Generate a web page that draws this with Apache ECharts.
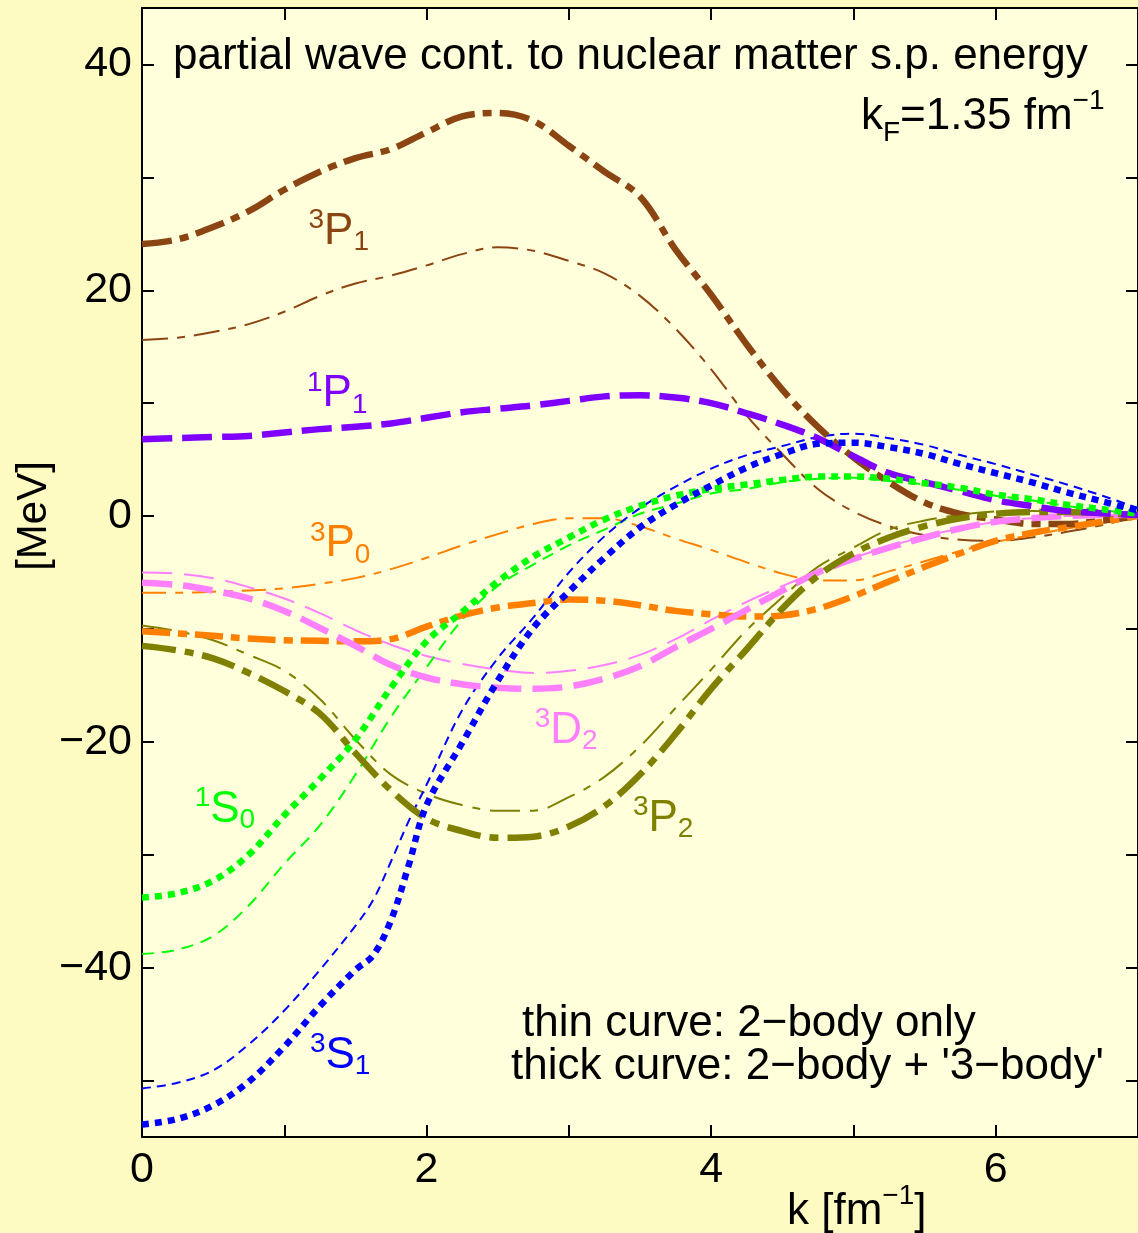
<!DOCTYPE html>
<html>
<head>
<meta charset="utf-8">
<script src="https://cdn.jsdelivr.net/npm/echarts@6/dist/echarts.min.js"></script>
<style>
  html, body { margin: 0; padding: 0; background: #FEFBC2; }
  #chart { width: 1138px; height: 1233px; }
</style>
</head>
<body>
<div id="chart"></div>
<script>
// Momentum grid k [fm^-1]
const K = [0, 0.25, 0.5, 0.75, 1, 1.25, 1.5, 1.75, 2, 2.25, 2.5, 2.75, 3, 3.25, 3.5, 3.75,
           4, 4.25, 4.5, 4.75, 5, 5.25, 5.5, 5.75, 6, 6.25, 6.5, 6.75, 7];
// finer grid for the 3S1 channel, which bends sharply near k = 1.7-2
const K_S = [0, 0.25, 0.5, 0.75, 1, 1.25, 1.5, 1.625, 1.75, 1.875, 2, 2.25, 2.5, 2.75, 3, 3.25, 3.5,
             3.75, 4, 4.25, 4.5, 4.75, 5, 5.25, 5.5, 5.75, 6, 6.25, 6.5, 6.75, 7];

// Partial-wave contributions [MeV]; "2B3B" = 2-body + '3-body', "2B" = 2-body only
const P1_3_2B3B = [24.1, 24.5, 25.6, 27.0, 28.9, 30.5, 31.7, 32.5, 34.0, 35.4, 35.7, 35.0, 32.8, 30.5, 28.3, 23.6,
                   19.6, 15.2, 11.2, 7.9, 5.2, 3.0, 1.2, 0.2, -0.3, -0.7, -0.7, -0.4, 0.0];
const P1_3_2B   = [15.6, 15.8, 16.3, 17.0, 18.1, 19.5, 20.6, 21.3, 22.2, 23.2, 23.8, 23.5, 22.6, 21.5, 19.5, 16.6,
                   13.0, 8.9, 5.5, 2.4, 0.4, -0.9, -1.7, -2.1, -2.2, -1.9, -1.4, -0.8, 0.0];
const P1_1      = [6.8, 6.9, 7.0, 7.1, 7.4, 7.7, 7.9, 8.2, 8.7, 9.2, 9.5, 9.8, 10.2, 10.6, 10.7, 10.5,
                   10.0, 9.1, 8.1, 6.9, 5.3, 3.8, 3.0, 2.2, 1.4, 0.9, 0.45, 0.25, 0.1];
const P0_3_2B3B = [-10.2, -10.4, -10.6, -10.85, -11.0, -11.05, -11.1, -10.9, -9.8, -8.8, -8.1, -7.7, -7.4, -7.5, -7.9, -8.4,
                   -8.7, -8.9, -8.8, -8.2, -7.1, -5.8, -4.5, -3.3, -2.2, -1.5, -1.0, -0.5, 0.0];
const P0_3_2B   = [-6.8, -6.8, -6.7, -6.6, -6.4, -6.0, -5.5, -4.7, -3.7, -2.6, -1.6, -0.7, -0.2, -0.2, -0.9, -2.0,
                   -3.0, -4.1, -5.1, -5.7, -5.7, -4.9, -4.0, -3.1, -2.3, -1.7, -1.1, -0.6, 0.0];
const D2_3_2B3B = [-5.9, -6.1, -6.6, -7.3, -8.4, -9.9, -11.5, -13.2, -14.3, -14.9, -15.2, -15.3, -15.1, -14.4, -13.3, -11.6,
                   -10.0, -8.3, -6.6, -5.0, -3.8, -2.8, -1.9, -1.1, -0.5, -0.2, 0.0, 0.1, 0.1];
const D2_3_2B   = [-5.0, -5.1, -5.5, -6.3, -7.3, -8.6, -10.1, -11.4, -12.4, -13.1, -13.6, -13.9, -13.7, -13.2, -12.3, -10.9,
                   -9.2, -7.6, -6.2, -4.9, -3.7, -2.7, -1.8, -1.1, -0.5, -0.2, 0.0, 0.1, 0.1];
const S0_1_2B3B = [-33.8, -33.4, -32.3, -30.0, -26.5, -23.3, -19.8, -15.2, -11.1, -8.5, -5.8, -3.6, -1.9, -0.3, 0.9, 1.8,
                   2.4, 2.8, 3.2, 3.5, 3.5, 3.3, 2.9, 2.5, 1.9, 1.5, 1.0, 0.6, 0.2];
const S0_1_2B   = [-38.8, -38.4, -37.2, -34.5, -30.8, -27.4, -22.9, -17.8, -13.4, -9.2, -6.2, -4.3, -2.6, -1.2, 0.2, 1.1,
                   2.0, 2.4, 3.0, 3.3, 3.4, 3.1, 2.8, 2.3, 1.8, 1.4, 0.9, 0.5, 0.2];
const S1_3_2B3B = [-53.9, -53.4, -52.2, -50.1, -47.0, -43.4, -40.2, -38.9, -35.8, -30.9, -25.6, -20.1, -14.6, -9.9, -6.7, -3.7, -1.0,
                   1.0, 2.7, 4.3, 5.5, 6.4, 6.5, 6.1, 5.5, 4.6, 3.8, 3.0, 2.1, 1.3, 0.5];
const S1_3_2B   = [-50.7, -50.2, -49.1, -46.8, -43.8, -40.2, -36.3, -34.0, -30.6, -27.0, -23.8, -17.2, -12.6, -9.0, -5.0, -1.8, 0.7,
                   2.6, 4.2, 5.4, 6.2, 7.0, 7.3, 6.9, 6.3, 5.4, 4.6, 3.7, 2.8, 1.8, 0.7];
const P2_3_2B3B = [-11.5, -11.9, -12.6, -13.9, -15.5, -17.5, -21.0, -24.3, -26.8, -27.9, -28.5, -28.4, -27.5, -25.7, -22.9, -19.3,
                   -15.3, -11.8, -8.2, -5.3, -3.3, -1.9, -0.9, -0.2, 0.2, 0.35, 0.35, 0.25, 0.1];
const P2_3_2B   = [-9.7, -10.2, -11.0, -12.3, -13.7, -16.2, -19.8, -22.9, -24.6, -25.6, -26.1, -26.1, -24.9, -23.1, -20.4, -17.0,
                   -13.6, -10.1, -7.2, -4.5, -2.8, -1.2, -0.4, 0.1, 0.4, 0.45, 0.4, 0.3, 0.1];

// Axis ticks and labels
const X_LABELS = [0, 2, 4, 6];
const Y_TICKS = [-50, -40, -30, -20, -10, 0, 10, 20, 30, 40];
const Y_LABELS = [-40, -20, 0, 20, 40];

const FONT = '"Liberation Sans", Arial, Helvetica, sans-serif';
const BROWN = '#8B4513', PURPLE = '#8000FF', ORANGE = '#FF8000', PINK = '#FF80FF',
      GREEN = '#00FF00', OLIVE = '#808000', BLUE = '#0000FF';
const THICK = 6.5, THIN = 2;

const CURVES = [
  { k: K, e: P1_3_2B,   color: BROWN,  width: THIN,  dash: [26, 9, 8, 9] },
  { k: K, e: P0_3_2B,   color: ORANGE, width: THIN,  dash: [24, 9, 8, 9] },
  { k: K, e: D2_3_2B,   color: PINK,   width: THIN,  dash: [30, 12] },
  { k: K, e: P2_3_2B,   color: OLIVE,  width: THIN,  dash: [30, 10, 8, 10] },
  { k: K, e: S0_1_2B,   color: GREEN,  width: THIN,  dash: [12, 8] },
  { k: K_S, e: S1_3_2B, color: BLUE,   width: THIN,  dash: [9, 6] },
  { k: K, e: P1_3_2B3B, color: BROWN,  width: THICK, dash: [30, 8, 9, 8] },
  { k: K, e: P0_3_2B3B, color: ORANGE, width: THICK, dash: [28, 8, 9, 8] },
  { k: K, e: D2_3_2B3B, color: PINK,   width: THICK, dash: [30, 11] },
  { k: K, e: P2_3_2B3B, color: OLIVE,  width: THICK, dash: [34, 9, 9, 9] },
  { k: K, e: P1_1,      color: PURPLE, width: THICK, dash: [30, 10] },
  { k: K, e: S0_1_2B3B, color: GREEN,  width: THICK, dash: [7, 6] },
  { k: K_S, e: S1_3_2B3B, color: BLUE, width: THICK, dash: [7, 6] }
];

// Channel labels, anchored in data coordinates (k, MeV)
const CHANNEL_LABELS = [
  { at: [1.17, 25.2],  text: '{sup|3}{main|P}{sub|1}', color: BROWN },
  { at: [1.16, 10.8],  text: '{sup|1}{main|P}{sub|1}', color: PURPLE },
  { at: [1.18, -2.5],  text: '{sup|3}{main|P}{sub|0}', color: ORANGE },
  { at: [2.76, -19.0], text: '{sup|3}{main|D}{sub|2}', color: PINK },
  { at: [0.37, -26.0], text: '{sup|1}{main|S}{sub|0}', color: GREEN },
  { at: [3.45, -26.8], text: '{sup|3}{main|P}{sub|2}', color: OLIVE },
  { at: [1.18, -47.8], text: '{sup|3}{main|S}{sub|1}', color: BLUE }
];

const minusFmt = v => (v < 0 ? '\u2212' + Math.abs(v) : String(v));

const axisLine = { show: true, onZero: false, lineStyle: { color: '#000', width: 2 } };
const tickStyle = { color: '#000', width: 2 };

const option = {
  animation: false,
  backgroundColor: '#FEFBC2',
  grid: { left: 142, top: 8, width: 1001, height: 1129, show: true,
          backgroundColor: '#FFFFDB', borderWidth: 0 },
  xAxis: [
    { type: 'value', min: 0, max: 7, interval: 1, position: 'bottom',
      axisLine, axisTick: { show: true, inside: true, length: 12, lineStyle: tickStyle },
      axisLabel: { customValues: X_LABELS, margin: 12, fontSize: 43, color: '#000', fontFamily: FONT },
      splitLine: { show: false } },
    { type: 'value', min: 0, max: 7, interval: 1, position: 'top',
      axisLine, axisTick: { show: true, inside: true, length: 12, lineStyle: tickStyle },
      axisLabel: { show: false }, splitLine: { show: false } }
  ],
  yAxis: [
    { type: 'value', min: -55, max: 45, position: 'left',
      axisLine, axisTick: { show: true, inside: true, length: 12, lineStyle: tickStyle, customValues: Y_TICKS },
      axisLabel: { customValues: Y_LABELS, formatter: minusFmt, margin: 10, fontSize: 43,
                   color: '#000', fontFamily: FONT },
      splitLine: { show: false } },
    { type: 'value', min: -55, max: 45, position: 'right',
      axisLine, axisTick: { show: true, inside: true, length: 12, lineStyle: tickStyle, customValues: Y_TICKS },
      axisLabel: { show: false }, splitLine: { show: false } }
  ],
  series: CURVES.map(c => ({
    type: 'line',
    xAxisIndex: 0, yAxisIndex: 0,
    data: c.k.map((k, i) => [k, c.e[i]]),
    symbol: 'none', showSymbol: false, smooth: 0.35, silent: true,
    lineStyle: { color: c.color, width: c.width, type: c.dash, cap: 'butt', join: 'round' }
  }))
};

const chart = echarts.init(document.getElementById('chart'), null, { renderer: 'canvas', width: 1138, height: 1233 });
chart.setOption(option);

// rich text pieces: superscript / main letter / subscript
function richParts(color, mainSize, mainLH, supLH, subLH) {
  return {
    main: { fontSize: mainSize, lineHeight: mainLH, verticalAlign: 'middle', fill: color, fontFamily: FONT },
    sup:  { fontSize: 28, lineHeight: supLH, verticalAlign: 'top', fill: color, fontFamily: FONT },
    sub:  { fontSize: 28, lineHeight: subLH, verticalAlign: 'bottom', fill: color, fontFamily: FONT }
  };
}

function plainText(x, y, text, size, extra) {
  return Object.assign({
    type: 'text', x, y, silent: true, z: 100,
    style: { text, fontSize: size, fontFamily: FONT, fill: '#000', align: 'left', verticalAlign: 'middle' }
  }, extra || {});
}

const graphics = [
  plainText(173, 57, 'partial wave cont. to nuclear matter s.p. energy', 44),
  { type: 'text', x: 861, y: 117, silent: true, z: 100,
    style: { text: '{main|k}{sub|F}{main|=1.35 fm}{sup|\u22121}', align: 'left', verticalAlign: 'middle',
             rich: richParts('#000', 44, 60, 28, 32) } },
  plainText(522, 1024, 'thin curve: 2\u2212body only', 44),
  plainText(511, 1067, "thick curve: 2\u2212body + '3\u2212body'", 44),
  { type: 'text', x: 787, y: 1212, silent: true, z: 100,
    style: { text: '{main|k [fm}{sup|\u22121}{main|]}', align: 'left', verticalAlign: 'middle',
             rich: richParts('#000', 44, 60, 28, 32) } },
  { type: 'text', x: 34, y: 516, rotation: Math.PI / 2, silent: true, z: 100,
    style: { text: '[MeV]', fontSize: 42, fontFamily: FONT, fill: '#000', align: 'center', verticalAlign: 'middle' } }
];

CHANNEL_LABELS.forEach(l => {
  const p = chart.convertToPixel({ xAxisIndex: 0, yAxisIndex: 0 }, l.at);
  graphics.push({
    type: 'text', x: p[0], y: p[1], silent: true, z: 100,
    style: { text: l.text, align: 'left', verticalAlign: 'middle', rich: richParts(l.color, 44, 50, 29, 22) }
  });
});

chart.setOption({ graphic: graphics });
</script>
</body>
</html>
